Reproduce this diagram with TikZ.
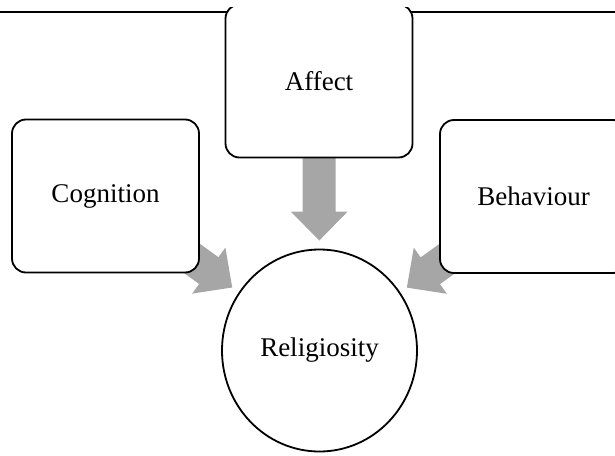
\documentclass[tikz,border=0pt]{standalone}
\usepackage{fontspec}
\setmainfont{Liberation Serif}
\usetikzlibrary{arrows.meta}
\usetikzlibrary{shapes.geometric}
\usetikzlibrary{backgrounds}

\definecolor{arrowgray}{RGB}{166,166,166}

\begin{document}
\begin{tikzpicture}[x=1pt, y=-1pt,
    facet/.style={draw, line width=1.8pt, rounded corners=14pt, fill=white,
        minimum width=187pt, minimum height=153pt, font=\fontsize{27}{32}\selectfont},
    core/.style={ellipse, draw, line width=1.8pt, fill=white,
        minimum width=195pt, minimum height=202pt, font=\fontsize{27}{32}\selectfont},
    feed/.style={arrowgray, line width=33pt, shorten >=8pt,
        -{Triangle[width=55pt, length=29pt]}}]
    \useasboundingbox (0,0) rectangle (615,455);
    \clip (0,7) rectangle (615,455);

    % Rule across the top
    \coordinate (ruleL) at (0,12);
    \coordinate (ruleR) at (615,12);
    \draw[line width=1.2pt] (ruleL) -- (ruleR);

    % Components
    \node[facet] (affect) at (319,81) {Affect};
    \node[facet] (cognition) at (105.5,196) {Cognition};
    \node[facet] (behaviour) at (533.5,196.5) {Behaviour};

    % Centre
    \node[core] (religiosity) at (319.5,350.5) {Religiosity};

    % Block arrows (behind the boxes)
    \begin{scope}[on background layer]
        \draw[feed] (affect.center) -- (religiosity);
        \draw[feed] (cognition.center) -- (religiosity);
        \draw[feed] (behaviour.center) -- (religiosity);
    \end{scope}
\end{tikzpicture}
\end{document}
